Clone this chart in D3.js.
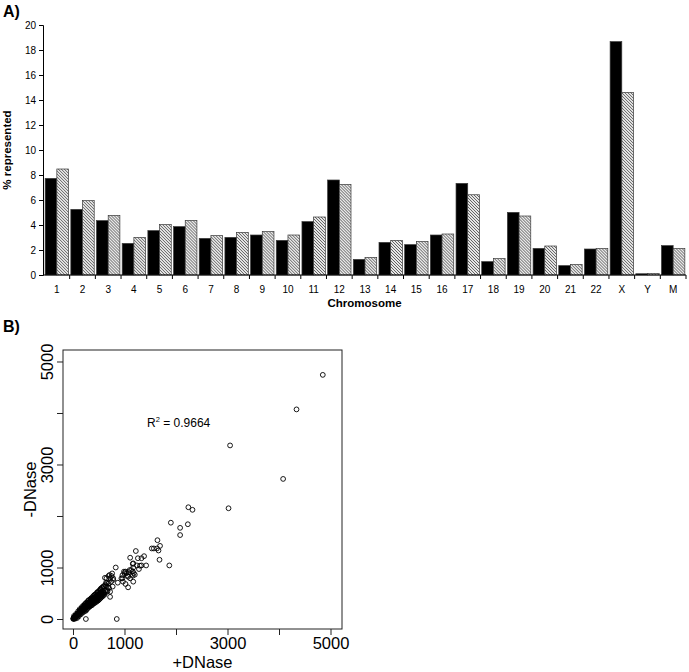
<!DOCTYPE html>
<html><head><meta charset="utf-8">
<script src="https://cdn.jsdelivr.net/npm/d3@7"></script>
<style>
body{margin:0;background:#fff;}
text{font-family:"Liberation Sans",Arial,sans-serif;fill:#000;}
</style>
</head><body>
<svg id="c" width="689" height="672" style="display:block;background:#fff"></svg>
<script>
// ---------- Panel A data ----------
const chromosomes = ["1","2","3","4","5","6","7","8","9","10","11","12","13","14","15","16","17","18","19","20","21","22","X","Y","M"];
const seriesBlack = [7.73,5.25,4.35,2.53,3.55,3.87,2.93,3.01,3.20,2.77,4.27,7.60,1.25,2.61,2.43,3.20,7.33,1.07,5.01,2.13,0.75,2.08,18.67,0.10,2.35];
const seriesHatched = [8.48,5.95,4.77,3.01,4.03,4.37,3.15,3.41,3.47,3.20,4.64,7.25,1.41,2.77,2.69,3.28,6.42,1.31,4.72,2.32,0.85,2.13,14.61,0.13,2.13];
const barYTicks = [0,2,4,6,8,10,12,14,16,18,20];

// ---------- Panel B data ----------
const scatterTicks = [0,1000,2000,3000,4000,5000];
const scatterTickLabels = ["0","1000","","3000","","5000"];
const highPoints = [[4850,4740],[4340,4070],[4080,2720],[3050,3370],[3020,2150],[2240,2170],[2320,2120],[1900,1870],[2080,1770],[2230,1840],[2080,1630],[1640,1530],[1530,1370],[1570,1370],[1630,1370],[1690,1420],[1660,1330],[1680,1150],[1870,1040],[1220,1320],[1380,1220],[1260,1180],[1330,1180],[1110,1190],[1170,1080],[1240,1040],[1420,1040],[1330,1040],[1080,910],[1160,920],[1200,860],[1170,725],[1070,615],[830,1000],[990,920],[1040,890],[960,850],[1160,1070],[1170,1000],[1130,950],[1300,1035],[1280,970],[1180,890],[1160,840],[1110,790],[1060,840],[1020,920],[960,790],[1020,680],[850,0],[250,0]];
const midPoints = [[620,800],[690,835],[720,790],[750,835],[780,790],[740,725],[690,690],[650,640],[770,630],[700,600],[600,640],[620,550],[720,530],[590,500],[720,430],[650,790],[710,855],[760,885],[780,760],[870,705],[940,790],[970,725],[1000,890],[1070,820],[1100,950],[660,560],[640,700],[560,600],[540,560],[680,620]];
const bandPoints = [[5,3],[8,12],[12,5],[15,20],[18,10],[22,28],[25,15],[28,35],[30,22],[33,40],[35,18],[38,30],[40,48],[42,25],[45,38],[48,55],[50,32],[52,45],[55,60],[58,40],[60,52],[62,70],[65,48],[68,62],[70,80],[72,55],[75,68],[78,88],[80,60],[82,75],[85,95],[88,70],[90,85],[92,105],[95,78],[98,92],[100,115],[102,85],[105,100],[108,120],[110,90],[112,108],[115,130],[118,98],[120,115],[122,140],[125,105],[128,125],[130,150],[132,110],[135,135],[138,158],[140,120],[142,145],[145,168],[148,128],[150,150],[152,175],[155,135],[158,160],[160,185],[165,145],[168,170],[170,195],[175,150],[178,180],[180,205],[185,160],[188,190],[190,215],[195,170],[198,200],[200,225],[205,175],[210,210],[212,235],[215,185],[220,220],[225,245],[228,195],[232,230],[235,260],[240,205],[245,240],[248,270],[252,215],[258,250],[262,280],[265,225],[270,262],[275,290],[280,240],[285,275],[290,305],[295,250],[300,285],[305,320],[310,265],[315,300],[320,335],[325,275],[330,315],[335,350],[340,290],[345,330],[350,365],[355,300],[360,345],[365,380],[370,310],[378,355],[385,395],[390,325],[398,370],[405,410],[410,340],[418,385],[425,425],[430,355],[438,400],[445,440],[450,370],[458,415],[465,455],[470,385],[478,430],[485,470],[490,400],[498,445],[505,485],[512,420],[520,460],[528,500],[535,435],[545,480],[552,515],[560,455],[570,495],[580,535],[590,470],[600,510]];
const bandSpreadPoints = [[20,60],[40,5],[60,100],[80,20],[100,150],[110,50],[130,190],[150,90],[170,230],[180,120],[200,260],[210,140],[230,290],[240,170],[260,320],[270,190],[290,350],[300,220],[310,370],[320,240],[340,390],[350,260],[360,410],[370,270],[390,440],[400,300],[410,460],[420,310],[440,480],[450,330],[460,500],[470,350],[480,520],[490,360],[500,540],[510,380],[520,560],[530,400],[540,590],[550,420],[565,610],[575,440],[590,630],[610,470],[630,660],[640,520],[660,700],[670,540],[250,160],[330,250],[380,290],[440,350],[500,420],[560,480],[420,470],[360,400],[300,350],[240,290],[470,520],[530,570]];
const rSquaredText = "0.9664";

const svg = d3.select("#c");

// hatch pattern
const defs = svg.append("defs");
const pat = defs.append("pattern").attr("id","hatch").attr("patternUnits","userSpaceOnUse")
  .attr("width",3).attr("height",3);
pat.append("rect").attr("width",3).attr("height",3).attr("fill","#e8e8e8");
pat.append("path").attr("d","M-1,-1 L4,4 M-1,2 L1,4 M2,-1 L4,1").attr("stroke","#505050").attr("stroke-width",0.9);

// ---------- Panel A ----------
const A = {left:43, right:686, top:25, bottom:275};
const yA = d3.scaleLinear().domain([0,20]).range([A.bottom, A.top]);
const xA = d3.scaleBand().domain(chromosomes).range([44, 686]).paddingInner(0.09).paddingOuter(0.045);
const xInner = d3.scaleBand().domain(["black","hatched"]).range([0, xA.bandwidth()]);

const gA = svg.append("g");
const groups = gA.selectAll("g.grp").data(chromosomes).join("g")
  .attr("transform", d => `translate(${xA(d)},0)`);
groups.append("rect")
  .attr("x", xInner("black")).attr("width", xInner.bandwidth())
  .attr("y", (d,i) => yA(seriesBlack[i])).attr("height", (d,i) => yA(0) - yA(seriesBlack[i]))
  .attr("fill","#000").attr("stroke","#3a3a3a").attr("stroke-width",0.7);
groups.append("rect")
  .attr("x", xInner("hatched")).attr("width", xInner.bandwidth())
  .attr("y", (d,i) => yA(seriesHatched[i])).attr("height", (d,i) => yA(0) - yA(seriesHatched[i]))
  .attr("fill","url(#hatch)").attr("stroke","#3a3a3a").attr("stroke-width",0.7);

// y axis
const yAxisA = gA.append("g").attr("transform",`translate(${A.left},0)`)
  .call(d3.axisLeft(yA).tickValues(barYTicks).tickSize(4).tickPadding(3).tickFormat(d3.format("d")));
yAxisA.selectAll("text").style("font-size","10px");
yAxisA.selectAll("line,path").attr("stroke","#000");

// x axis line and boundary ticks
const step = xA.step();
const boundaries = d3.range(chromosomes.length + 1);
gA.append("line").attr("x1",A.left).attr("x2",A.right).attr("y1",A.bottom).attr("y2",A.bottom).attr("stroke","#000");
gA.selectAll("line.bt").data(boundaries.slice(1)).join("line")
  .attr("x1", i => xA(chromosomes[0]) - step*0.09/2 + i*step)
  .attr("x2", i => xA(chromosomes[0]) - step*0.09/2 + i*step)
  .attr("y1",A.bottom).attr("y2",A.bottom+4).attr("stroke","#000");
const xAxisA = gA.append("g").attr("transform",`translate(0,${A.bottom})`)
  .call(d3.axisBottom(xA).tickSize(0).tickPadding(11));
xAxisA.select(".domain").remove();
xAxisA.selectAll("text").style("font-size","10px");

gA.append("text").attr("x",(A.left+A.right)/2).attr("y",306.5).attr("text-anchor","middle")
  .style("font-size","11.5px").style("font-weight","bold").text("Chromosome");
gA.append("text").attr("transform",`translate(11,${(A.top+A.bottom)/2}) rotate(-90)`).attr("text-anchor","middle")
  .style("font-size","11.5px").style("font-weight","bold").text("% represented");
svg.append("text").attr("x",3).attr("y",17).style("font-size","16px").style("font-weight","bold").text("A)");
svg.append("text").attr("x",3).attr("y",332).style("font-size","16px").style("font-weight","bold").text("B)");

// ---------- Panel B ----------
const B = {left:63, right:342, top:350, bottom:629};
const xB = d3.scaleLinear().domain([-194, 5223]).range([B.left, B.right]);
const yB = d3.scaleLinear().domain([-194, 5223]).range([B.bottom, B.top]);
const gB = svg.append("g");
gB.append("rect").attr("x",B.left).attr("y",B.top).attr("width",B.right-B.left).attr("height",B.bottom-B.top)
  .attr("fill","none").attr("stroke","#222").attr("stroke-width",1);

const xAxisB = gB.append("g").attr("transform",`translate(0,${B.bottom})`)
  .call(d3.axisBottom(xB).tickValues(scatterTicks).tickSize(6).tickPadding(2).tickFormat((d,i)=>scatterTickLabels[i]));
xAxisB.select(".domain").remove();
xAxisB.selectAll("text").style("font-size","16.5px");
xAxisB.selectAll("line").attr("stroke","#222");

const yAxisB = gB.append("g").attr("transform",`translate(${B.left},0)`)
  .call(d3.axisLeft(yB).tickValues(scatterTicks).tickSize(6).tickFormat((d,i)=>scatterTickLabels[i]));
yAxisB.select(".domain").remove();
yAxisB.selectAll("line").attr("stroke","#222");
yAxisB.selectAll("text").style("font-size","16.5px")
  .attr("transform","rotate(-90)").attr("text-anchor","middle").attr("x",0).attr("y",-10).attr("dy",0);

gB.append("text").attr("x",(B.left+B.right)/2).attr("y",668).attr("text-anchor","middle")
  .style("font-size","16.5px").text("+DNase");
gB.append("text").attr("transform",`translate(36,${(B.top+B.bottom)/2}) rotate(-90)`).attr("text-anchor","middle")
  .style("font-size","16.5px").text("-DNase");

const rt = gB.append("text").attr("x",147).attr("y",427).style("font-size","12px");
rt.append("tspan").text("R");
rt.append("tspan").attr("dy",-5).style("font-size","7.5px").text("2");
rt.append("tspan").attr("dy",5).text(" = " + rSquaredText);

const allPoints = bandPoints.concat(bandSpreadPoints, midPoints, highPoints);
gB.append("g").selectAll("circle").data(allPoints).join("circle")
  .attr("cx", d => xB(d[0])).attr("cy", d => yB(d[1])).attr("r",2.4)
  .attr("fill","none").attr("stroke","#000").attr("stroke-width",0.9);
</script>
</body></html>
